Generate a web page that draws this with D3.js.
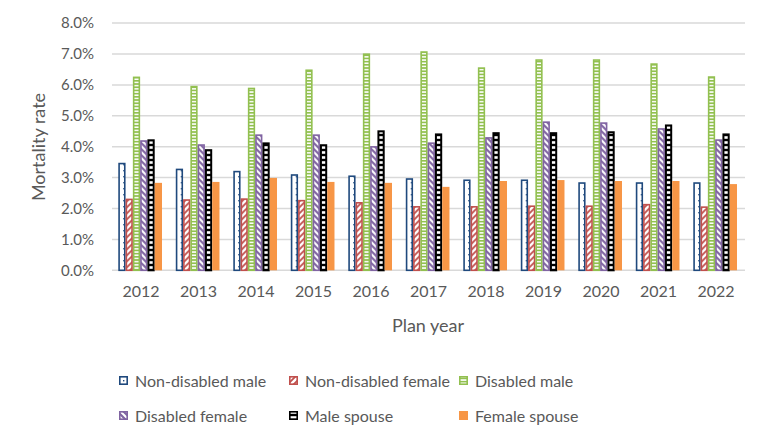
<!DOCTYPE html>
<html><head><meta charset="utf-8">
<script src="https://cdn.jsdelivr.net/npm/d3@7/dist/d3.min.js"></script>
<style>body{margin:0;background:#fff}svg{display:block;font-family:Lato,"Open Sans",sans-serif}</style>
</head><body><svg id="c" width="765" height="443"></svg>
<script>
const years = ["2012","2013","2014","2015","2016","2017","2018","2019","2020","2021","2022"];
const seriesNames = ["Non-disabled male","Non-disabled female","Disabled male","Disabled female","Male spouse","Female spouse"];
const nonDisabledMale   = [3.48,3.29,3.22,3.11,3.07,2.98,2.94,2.94,2.85,2.85,2.85];
const nonDisabledFemale = [2.32,2.30,2.33,2.28,2.21,2.08,2.08,2.10,2.10,2.15,2.07];
const disabledMale      = [6.27,5.97,5.91,6.50,7.02,7.09,6.57,6.83,6.83,6.70,6.28];
const disabledFemale    = [4.21,4.08,4.40,4.40,4.02,4.14,4.31,4.82,4.79,4.60,4.24];
const maleSpouse        = [4.24,3.92,4.14,4.08,4.53,4.43,4.47,4.47,4.50,4.72,4.43];
const femaleSpouse      = [2.83,2.86,2.99,2.86,2.83,2.70,2.89,2.92,2.89,2.89,2.79];
const yTicks = [0,1,2,3,4,5,6,7,8];
const seriesValues = [nonDisabledMale,nonDisabledFemale,disabledMale,disabledFemale,maleSpouse,femaleSpouse];

const svg = d3.select("#c");
const defs = svg.append("defs");
const colors = ["#1F497D","#C0504D","#92C050","#8064A2","#000000","#F79646"];

function pat(id,w,h){return defs.append("pattern").attr("id",id).attr("patternUnits","userSpaceOnUse").attr("width",w).attr("height",h);}
let p = pat("p0",8,6); p.append("rect").attr("width",8).attr("height",6).attr("fill","#fff");
p.append("rect").attr("x",3).attr("y",2).attr("width",1.4).attr("height",1.4).attr("fill",colors[0]);
p = pat("p1",6,6); p.append("rect").attr("width",6).attr("height",6).attr("fill","#fff");
p.append("path").attr("d","M-1,7L7,-1M-1,1L1,-1M5,7L7,5").attr("stroke",colors[1]).attr("stroke-width",1.8);
p = pat("p2",4,3.2); p.append("rect").attr("width",4).attr("height",3.2).attr("fill","#fff");
p.append("rect").attr("width",4).attr("height",1.7).attr("fill",colors[2]);
p = pat("p3",6,6); p.append("rect").attr("width",6).attr("height",6).attr("fill","#fff");
p.append("path").attr("d","M-1,-1L7,7M5,-1L7,1M-1,5L1,7").attr("stroke",colors[3]).attr("stroke-width",2.2);
p = pat("p4",4,5); p.append("rect").attr("width",4).attr("height",5).attr("fill","#000");
p.append("rect").attr("y",1.2).attr("width",4).attr("height",2.6).attr("fill","#fff");
const fills = ["url(#p0)","url(#p1)","url(#p2)","url(#p3)","url(#p4)",colors[5]];
const strokeW = [1.6,1.6,1.6,1.6,2.0,0];

const x0 = d3.scaleBand().domain(years).range([112.25,744.75]);
const x1 = d3.scaleBand().domain(d3.range(6)).range([x0.bandwidth()*0.105, x0.bandwidth()*0.865]);
const y = d3.scaleLinear().domain([0,8]).range([270.3,23.1]);

svg.append("g").selectAll("line").data(yTicks).join("line")
  .attr("x1",112).attr("x2",745).attr("y1",d=>y(d)).attr("y2",d=>y(d))
  .attr("stroke","#D9D9D9").attr("stroke-width",1.5);

const yAxis = d3.axisLeft(y).tickValues(yTicks).tickFormat(d=>d.toFixed(1)+"%").tickSize(0).tickPadding(0);
const gy = svg.append("g").attr("transform","translate(94,0)").call(yAxis);
gy.select(".domain").remove();
gy.selectAll("text").attr("font-size",15).attr("fill","#595959").attr("font-family","Lato, sans-serif");

const groups = svg.append("g").selectAll("g").data(years).join("g").attr("transform",d=>`translate(${x0(d)},0)`);
groups.each(function(yr,i){
  const g = d3.select(this);
  seriesValues.forEach((vals,s)=>{
    const v = vals[i], sw = strokeW[s];
    const bx = x1(s), bw = x1.bandwidth();
    g.append("rect")
      .attr("x",bx+sw/2).attr("y",y(v)+sw/2)
      .attr("width",Math.max(0,bw-sw)).attr("height",Math.max(0,y(0)-y(v)-sw/2))
      .attr("fill",fills[s])
      .attr("stroke",sw?colors[s]:"none").attr("stroke-width",sw);
  });
});

const xAxis = d3.axisBottom(x0).tickSize(0).tickPadding(0);
const gx = svg.append("g").attr("transform","translate(0,286)").call(xAxis);
gx.select(".domain").remove();
gx.selectAll("text").attr("font-size",16).attr("fill","#595959").attr("font-family","Lato, sans-serif");

svg.append("text").attr("x",428).attr("y",332).attr("text-anchor","middle").attr("font-size",18).attr("fill","#595959").text("Plan year");
svg.append("text").attr("transform","translate(45,147) rotate(-90)").attr("text-anchor","middle").attr("font-size",18).attr("fill","#595959").text("Mortality rate");

const legPos = [[119,381],[289,381],[459,381],[119,416],[289,416],[459,416]];
seriesNames.forEach((name,s)=>{
  const [lx,ly] = legPos[s];
  const sw = strokeW[s] ? 1.6 : 0;
  svg.append("rect").attr("x",lx+sw/2).attr("y",ly-5+sw/2).attr("width",9-sw).attr("height",9-sw)
    .attr("fill",fills[s]).attr("stroke",sw?colors[s]:"none").attr("stroke-width",sw);
  svg.append("text").attr("x",lx+16).attr("y",ly).attr("dy","0.35em").attr("font-size",16).attr("fill","#595959").text(name);
});
</script></body></html>
